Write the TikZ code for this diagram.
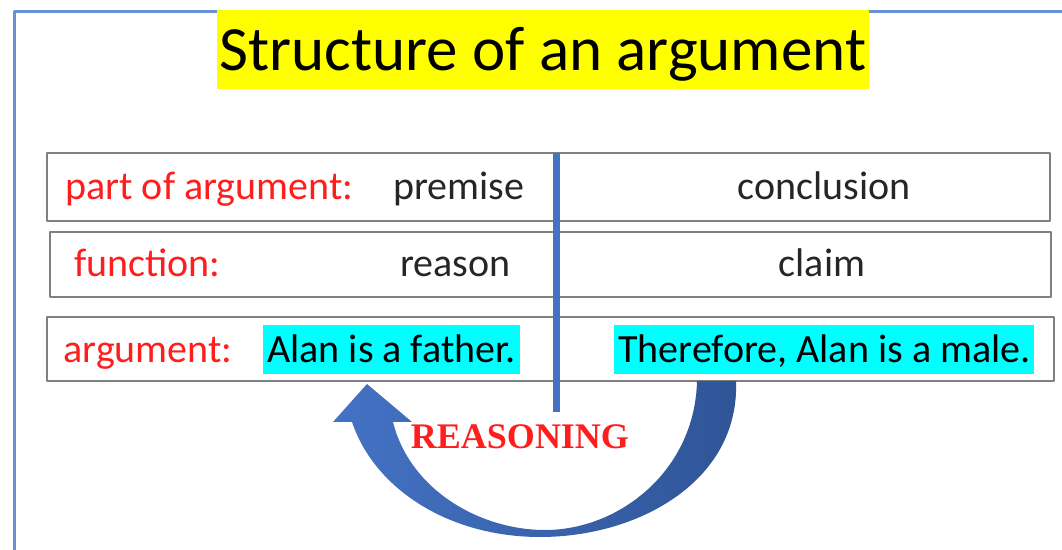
\documentclass[tikz,border=0pt]{standalone}
\usepackage{fontspec}
\setmainfont{Carlito}
\newfontfamily\reasonfont{Liberation Serif}
\definecolor{frameblue}{RGB}{105,143,212}
\definecolor{lineblue}{RGB}{68,114,196}
\definecolor{arrowdark}{RGB}{47,85,151}
\definecolor{labelred}{RGB}{255,30,30}
\definecolor{textgray}{RGB}{38,38,38}
\definecolor{rowgray}{RGB}{128,128,128}
\definecolor{hlcyan}{RGB}{0,255,255}
\definecolor{hlyellow}{RGB}{255,255,0}

\begin{document}
\begin{tikzpicture}[x=0.5pt,y=-0.5pt,line cap=round,line join=round,
  rowbox/.style={draw=rowgray,line width=1pt},
  lbl/.style={anchor=base west,inner sep=0pt,text=labelred,font=\fontsize{20}{24}\selectfont},
  word/.style={anchor=base west,inner sep=0pt,text=textgray,font=\fontsize{20}{24}\selectfont},
  hl/.style={anchor=base west,fill=hlcyan,text=black,inner xsep=2pt,inner ysep=0pt,
    text height=19pt,text depth=5.5pt,font=\fontsize{20}{24}\selectfont}]
\useasboundingbox (0,0) rectangle (1062,550);
% frame
\draw[frameblue,line width=1.5pt,line cap=butt] (14,560) -- (14,12) -- (1070,12);
% title
\node[fill=hlyellow,anchor=base,inner xsep=1.5pt,inner ysep=0pt,text height=30.5pt,text depth=9pt,
  font=\fontsize{31.5}{36}\selectfont] (title) at (543,71) {Structure of an argument};
% rows
\draw[rowbox] (47,153) rectangle (1050,221);
\draw[rowbox] (50,232) rectangle (1051,297);
\draw[rowbox] (47,317) rectangle (1054,381);
\node[lbl] (partlbl) at (65,200) {part of argument:};
\node[word] (premise) at (393,200) {premise};
\node[word,anchor=base] (conclusion) at (824,200) {conclusion};
\node[lbl] (funclbl) at (74,277) {function:};
\node[word] (reason) at (400,277) {reason};
\node[word,anchor=base] (claim) at (822,277) {claim};
\node[lbl] (arglbl) at (63,363) {argument:};
\node[hl] (father) at (263,363) {Alan is a father.};
\node[hl] (male) at (614,363) {Therefore, Alan is a male.};
% divider
\draw[lineblue,line width=3.5pt,line cap=butt] (556,153) -- (556,412);
% curved arrow
\shade[left color=lineblue,right color=arrowdark]
  (736,381) .. controls (740,480) and (640,537) .. (540,537)
  .. controls (450,537) and (375,490) .. (352,422)
  -- (333,422) -- (367,384) -- (412,422) -- (393,422)
  .. controls (410,490) and (480,530) .. (545,530)
  .. controls (620,530) and (695,470) .. (697,381) -- cycle;
\node[text=labelred,font=\reasonfont\bfseries\fontsize{18}{20}\selectfont] (reasoning) at (520,437) {REASONING};
\end{tikzpicture}
\end{document}
